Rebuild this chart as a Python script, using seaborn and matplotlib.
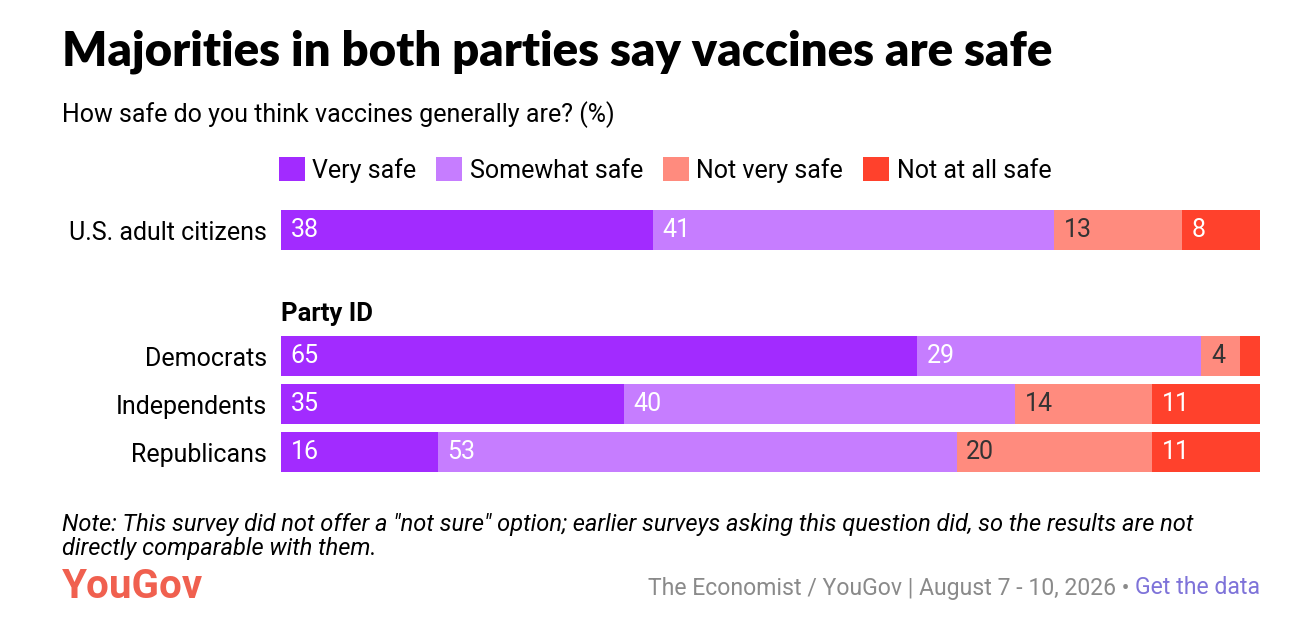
import numpy as np
import matplotlib.pyplot as plt
import seaborn as sns
import pandas as pd

groups = ["U.S. adult citizens", "Democrats", "Independents", "Republicans"]
categories = ["Very safe", "Somewhat safe", "Not very safe", "Not at all safe"]
very_safe = [38, 65, 35, 16]
somewhat_safe = [41, 29, 40, 53]
not_very_safe = [13, 4, 14, 20]
not_at_all_safe = [8, 2, 11, 11]

colors = ["#A22BFF", "#C67DFF", "#FF8B7E", "#FF412C"]
label_colors = ["white", "white", "#333333", "white"]
row_pos = [0, 2.625, 3.625, 4.625]

sns.set_style("white")
plt.rcParams['font.family'] = ['Roboto', 'DejaVu Sans']
plt.rcParams['text.color'] = 'black'

values = np.array([very_safe, somewhat_safe, not_very_safe, not_at_all_safe], dtype=float)
cum = values.cumsum(axis=0)
lefts = cum - values

df = pd.DataFrame({'group': groups, 'pos': row_pos})
for i, c in enumerate(categories):
    df[c] = cum[i]

fig = plt.figure(figsize=(12.9, 6.36), dpi=100)
ax = fig.add_axes([281/1290, 1-480/636, (1260-281)/1290, 280/636])

# stacked bars: draw cumulative totals from largest to smallest
for i in range(len(categories) - 1, -1, -1):
    sns.barplot(data=df, x=categories[i], y='pos', orient='h', native_scale=True,
                color=colors[i], width=0.82, errorbar=None, saturation=1,
                linewidth=0, ax=ax, label=categories[i])

handles, labels = ax.get_legend_handles_labels()
if ax.get_legend() is not None:
    ax.get_legend().remove()

for i in range(len(categories)):
    for j in range(len(groups)):
        v = values[i, j]
        if v < 3:
            continue
        ax.text(lefts[i, j] + 1.0, row_pos[j], f"{int(v)}", color=label_colors[i],
                fontsize=18, va='center', ha='left')

ax.set_xlim(0, 100)
ax.set_ylim(5.208, -0.625)
ax.set_yticks(row_pos)
ax.set_yticklabels(groups, fontsize=18, color='black')
ax.set_xticks([])
ax.set_xlabel("")
ax.set_ylabel("")
ax.tick_params(axis='y', length=0, pad=10)
sns.despine(ax=ax, left=True, bottom=True)

ax.text(0, 1.75, "Party ID", fontsize=18.5, fontweight='bold', va='center', ha='left')

order = [labels.index(c) for c in categories]
fig.legend([handles[k] for k in order], categories, ncol=4, frameon=False,
           loc='center left', bbox_to_anchor=(256/1290, 1-170/636),
           fontsize=18, handlelength=1.04, handleheight=1.04,
           handletextpad=0.3, columnspacing=0.8)

fig.text(62/1290, 1-52/636, "Majorities in both parties say vaccines are safe",
         fontsize=34, fontweight='heavy', va='center', ha='left',
         family=['Lato', 'DejaVu Sans'])
fig.text(62/1290, 1-115/636, "How safe do you think vaccines generally are? (%)",
         fontsize=18, va='center', ha='left')
fig.text(62/1290, 1-524/636,
         "Note: This survey did not offer a \"not sure\" option; earlier surveys asking this question did, so the results are not",
         fontsize=17, style='italic', va='center', ha='left')
fig.text(62/1290, 1-549/636, "directly comparable with them.",
         fontsize=17, style='italic', va='center', ha='left')
fig.text(62/1290, 1-587/636, "YouGov", fontsize=29, fontweight='bold',
         color='#F0604F', va='center', ha='left')

link = fig.text(1260/1290, 1-588/636, "Get the data", fontsize=16.6,
                color='#7E73D9', va='center', ha='right')
fig.canvas.draw()
bb = link.get_window_extent()
fig.text(bb.x0 / fig.bbox.width, 1-588/636,
         "The Economist / YouGov | August 7 - 10, 2026 \u2022 ", fontsize=16.6,
         color='#8A8A8A', va='center', ha='right')

fig.savefig("out.png", dpi=100)
